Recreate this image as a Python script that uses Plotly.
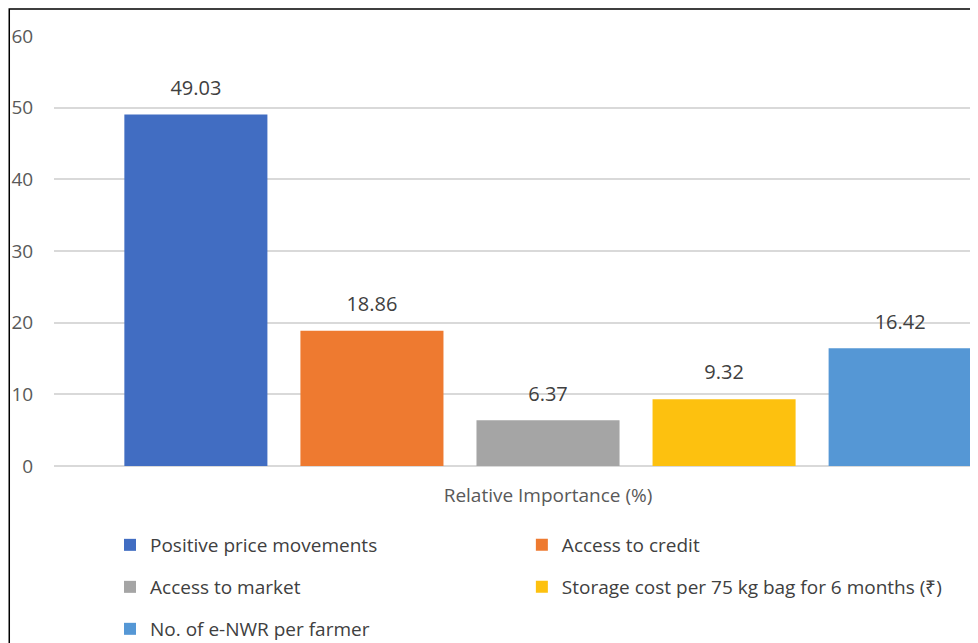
import plotly.graph_objects as go

category = ["Relative Importance (%)"]
series_names = [
    "Positive price movements",
    "Access to credit",
    "Access to market",
    "Storage cost per 75 kg bag for 6 months (₹)",
    "No. of e-NWR per farmer",
]
series_values = [49.03, 18.86, 6.37, 9.32, 16.42]
series_colors = ["#416DC2", "#EE7A30", "#A5A5A5", "#FDC10F", "#5597D5"]
legend_ids = ["legend", "legend2", "legend3", "legend4", "legend5"]
y_ticks = [0, 10, 20, 30, 40, 50, 60]

FONT = "Open Sans"
BAR_GAP = 0.109
fig = go.Figure()
for i, (name, val, col, lg) in enumerate(zip(series_names, series_values, series_colors, legend_ids)):
    fig.add_trace(go.Bar(
        x=category, y=[val], name=name, offsetgroup=str(i),
        marker=dict(color=col, line=dict(width=0)),
        legend=lg,
    ))
for i, val in enumerate(series_values):
    fig.add_trace(go.Scatter(
        x=category, y=[val], mode="markers+text", offsetgroup=str(i),
        marker=dict(size=22, color="rgba(0,0,0,0)"),
        text=[f"{val:.2f}"], textposition="top center",
        textfont=dict(family=FONT, size=20, color="#404040"),
        cliponaxis=False, showlegend=False, hoverinfo="skip",
    ))

leg_common = dict(orientation="v",
                  font=dict(family=FONT, size=19, color="#404040"),
                  bgcolor="rgba(0,0,0,0)", xanchor="left", yanchor="middle",
                  itemclick=False)
COL1, COL2 = 0.0601, 0.502
ROW1, ROW2, ROW3 = -0.1837, -0.2814, -0.379

fig.update_layout(
    width=978, height=643,
    margin=dict(l=46, r=0, t=28, b=185, autoexpand=False),
    paper_bgcolor="white", plot_bgcolor="white",
    barmode="group", bargap=BAR_GAP, bargroupgap=0.1875,
    scattermode="group", scattergap=BAR_GAP,
    font=dict(family=FONT, size=19, color="#595959"),
    xaxis=dict(range=[-0.5, 0.4433], showgrid=False, zeroline=False,
               showline=False, ticks="", ticklabelstandoff=16,
               tickfont=dict(size=19, color="#595959")),
    yaxis=dict(range=[0, 60], tickvals=y_ticks, showgrid=True, gridcolor="#D9D9D9",
               gridwidth=1.5, zeroline=True, zerolinecolor="#D9D9D9", zerolinewidth=1.5,
               showline=False, ticks="outside", ticklen=16, tickcolor="rgba(0,0,0,0)",
               tickfont=dict(size=19, color="#595959")),
    legend=dict(leg_common, x=COL1, y=ROW1),
    legend2=dict(leg_common, x=COL2, y=ROW1),
    legend3=dict(leg_common, x=COL1, y=ROW2),
    legend4=dict(leg_common, x=COL2, y=ROW2),
    legend5=dict(leg_common, x=COL1, y=ROW3),
    showlegend=True,
    shapes=[dict(type="rect", xref="paper", yref="paper",
                 x0=-0.048, x1=1.2, y0=-0.6, y1=1.063,
                 line=dict(color="black", width=1.5), fillcolor="rgba(0,0,0,0)",
                 layer="below")],
)

fig.write_html("out.html")
